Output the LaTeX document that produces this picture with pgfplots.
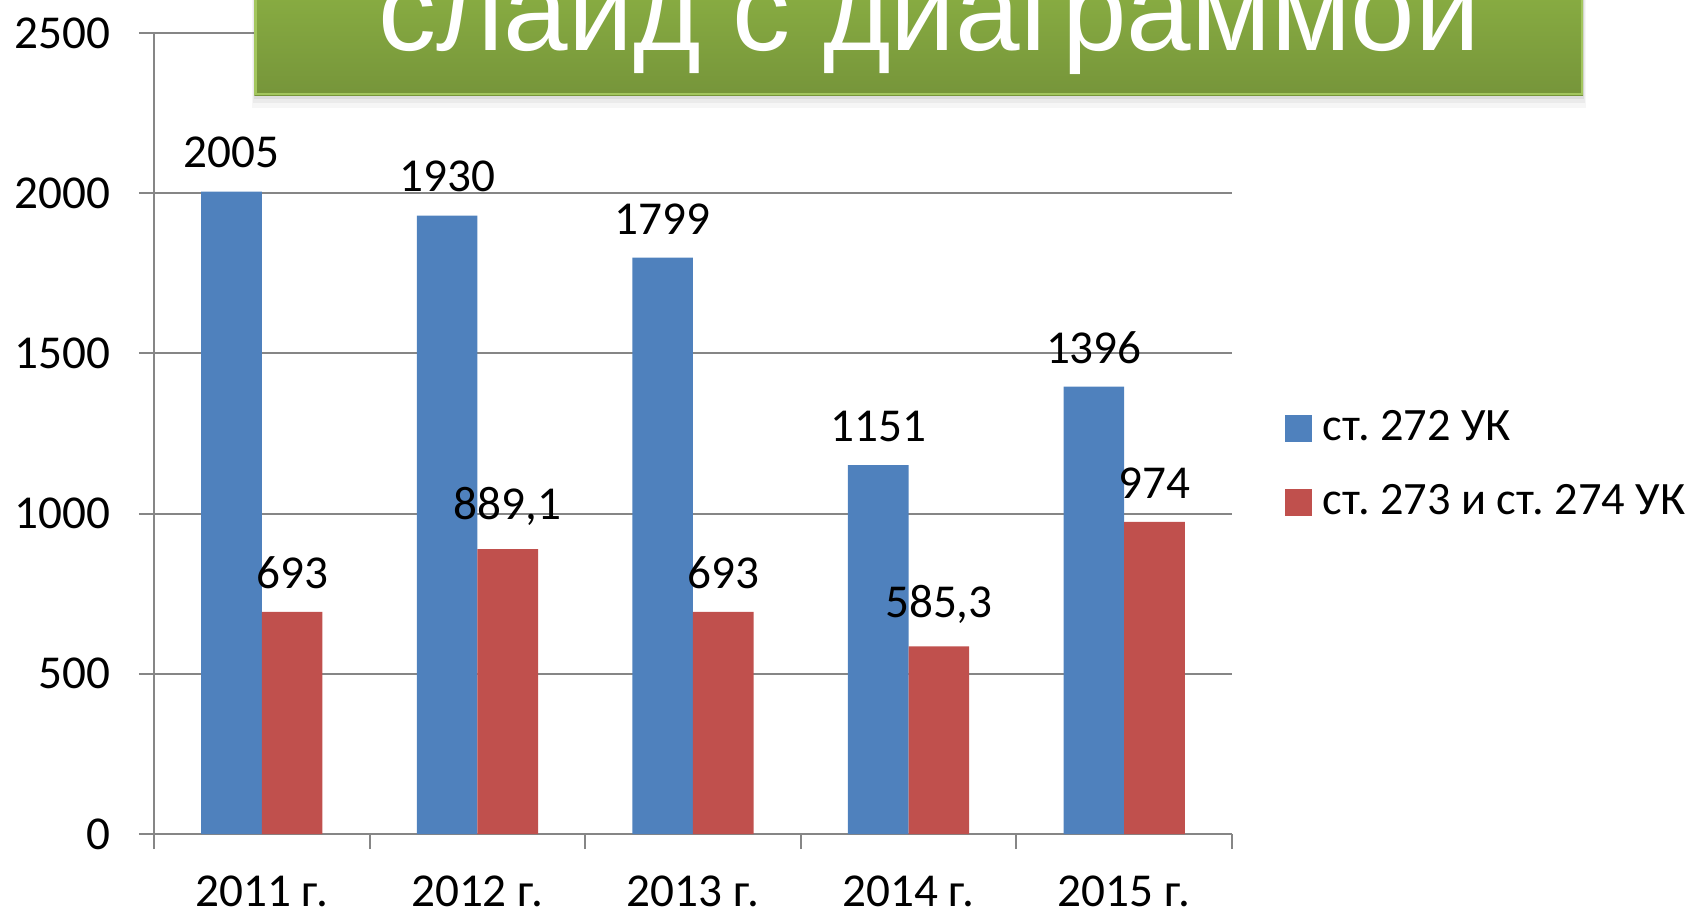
\documentclass[border=0pt]{standalone}
\usepackage{pgfplots}
\pgfplotsset{compat=1.18}
\usepackage{fontspec}
\setmainfont{Carlito}
\newfontfamily\bannerfont{Liberation Sans}
\frenchspacing
\definecolor{cblue}{HTML}{4F81BD}
\definecolor{cred}{HTML}{C0504D}
\definecolor{gridc}{HTML}{868686}
\definecolor{gtop}{HTML}{8FB545}
\definecolor{gbot}{HTML}{76953A}
\definecolor{gedge}{HTML}{A3C65E}
\pgfplotstableread{
x a b
0 2005 693
1 1930 889.1
2 1799 693
3 1151 585.3
4 1396 974
}\datatab
\begin{document}
\begin{tikzpicture}
\useasboundingbox (0,0) rectangle (424.5pt,228.5pt);
\begin{axis}[
  at={(38.5pt,20pt)}, anchor=south west,
  scale only axis, width=269.5pt, height=200.25pt,
  xmin=-0.5, xmax=4.5, ymin=0, ymax=2500,
  ybar=0pt, bar width=15.15pt,
  axis lines*=left,
  axis line style={draw=gridc, line width=0.5pt},
  ymajorgrids, grid style={draw=gridc, line width=0.5pt},
  ytick={0,500,...,2500},
  xtick={0,1,2,3,4},
  xticklabels={2011 г.,2012 г.,2013 г.,2014 г.,2015 г.},
  minor xtick={-0.5,0.5,...,4.5},
  tick align=outside,
  major tick length=3.8pt, minor tick length=3.8pt,
  x tick style={draw=none},
  minor x tick style={draw=gridc, line width=0.5pt},
  y tick style={draw=gridc, line width=0.5pt},
  tick label style={font=\fontsize{11.8}{14}\selectfont},
  xticklabel style={inner sep=1pt, text depth=0pt, yshift=-5.5pt},
  yticklabel style={xshift=-3.6pt},
  /pgf/number format/assume math mode=true,
  /pgf/number format/use comma,
  /pgf/number format/1000 sep={},
  nodes near coords,
  every node near coord/.append style={font=\fontsize{11.8}{14}\selectfont, anchor=south, yshift=2.3pt, text=black},
  legend style={draw=none, at={(rel axis cs:1,0.46)}, anchor=west, xshift=10pt,
    font=\fontsize{11.6}{14}\selectfont, row sep=5.3pt, legend cell align=left,
    /tikz/every even column/.append style={column sep=3pt}},
  clip=false,
]
\addplot[fill=cblue, draw=none, legend image code/.code={\fill[cblue] (0pt,-3.4pt) rectangle (6.8pt,3.4pt);}] table[x=x,y=a] {\datatab};
\addlegendentry{\hspace{0.6pt}ст. 272 УК}
\addplot[fill=cred, draw=none, legend image code/.code={\fill[cred] (0pt,-3.4pt) rectangle (6.8pt,3.4pt);}] table[x=x,y=b] {\datatab};
\addlegendentry{\hspace{0.6pt}ст. 273 и ст. 274 УК}
\end{axis}
% banner
\fill[black, opacity=0.035] (63.0pt,201.5pt) rectangle (396.6pt,240pt);
\fill[black, opacity=0.045] (63.3pt,202.7pt) rectangle (396.2pt,240pt);
\fill[black, opacity=0.06] (63.6pt,203.8pt) rectangle (396.0pt,240pt);
\shade[top color=gtop, bottom color=gbot] (63.6pt,204.75pt) rectangle (395.8pt,240pt);
\draw[gedge, line width=0.6pt] (63.9pt,240pt) -- (63.9pt,205.05pt) -- (395.5pt,205.05pt) -- (395.5pt,240pt);
\node[anchor=base, text=white, inner sep=0pt, font=\bannerfont\fontsize{29}{34}\selectfont] at (232.3pt,216pt) {слайд с диаграммой};
\end{tikzpicture}
\end{document}
